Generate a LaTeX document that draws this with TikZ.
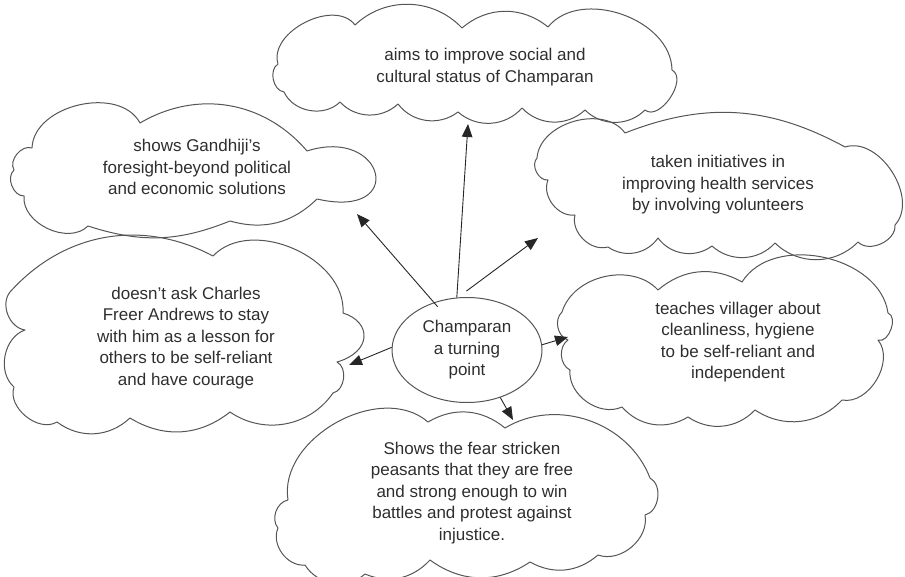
\documentclass[tikz,border=0pt]{standalone}
\usepackage{fontspec}
\setmainfont{Liberation Sans}
\usetikzlibrary{arrows.meta,shapes.geometric}
\definecolor{edgegray}{HTML}{555555}
\definecolor{txtgray}{HTML}{2E2E2E}
\begin{document}
\begin{tikzpicture}[x=1pt,y=-1pt,
 cloudline/.style={draw=edgegray,line width=1pt,line join=round},
 lbl/.style={font=\fontsize{17}{21.5}\selectfont,align=center,text=txtgray,inner sep=0pt},
 arr/.style={draw=black!85,line width=0.9pt,-{Triangle[length=13pt,width=10.5pt]}},
 hub/.style={ellipse,draw=edgegray,line width=1pt,minimum width=150pt,minimum height=105pt,inner sep=0pt}]
\useasboundingbox (0,0) rectangle (905,577);

% cloud 1 (top)
\draw[cloudline] (278,64) to[bend left=80] (355,25) to[bend left=45] (462,28) to[bend left=40] (548,27)
  to[bend left=70] (672,70) to[bend left=95] (645,110) to[bend left=45] (585,110) to[bend left=45] (522,108)
  to[bend left=45] (458,112) to[bend left=45] (398,104) to[bend left=45] (340,102) to[bend left=55] (284,92)
  to[bend left=70] (278,64);
% cloud 2 (top left)
\draw[cloudline] (32,148) to[bend left=75] (140,123) to[bend left=40] (307,151)
  .. controls (385,126) and (408,220) .. (317,199)
  to[bend left=30] (230,221) to[bend left=20] (88,226) to[bend left=70] (24,196) to[bend left=70] (14,170)
  to[bend left=70] (32,148);
% cloud 3 (right upper)
\draw[cloudline] (537,158) to[bend left=70] (625,133) to[bend left=25] (845,147) to[bend left=75] (895,225)
  to[bend left=70] (858,242) to[bend left=45] (775,243) to[bend left=45] (712,246) to[bend left=45] (658,238)
  to[bend left=45] (608,247) to[bend left=60] (575,215) to[bend left=60] (548,180) to[bend left=70] (537,158);
% cloud 4 (right lower)
\draw[cloudline] (562,312) to[bend left=60] (658,290) to[bend left=35] (742,282) to[bend left=70] (888,313)
  to[bend left=90] (878,340) to[bend left=70] (842,400) to[bend left=40] (755,410) to[bend left=40] (688,417)
  to[bend left=40] (622,407) to[bend left=60] (570,370) to[bend left=60] (568,340) to[bend left=60] (562,312);
% cloud 5 (left)
\draw[cloudline] (10,292) to[bend left=38] (213,256) to[bend left=70] (343,313)
  .. controls (372,322) and (372,352) .. (337,362)
  to[bend left=70] (333,393) to[bend left=45] (230,412) to[bend left=35] (130,418) to[bend left=40] (57,422)
  to[bend left=70] (14,387) to[bend left=60] (25,330) to[bend left=60] (10,292);
% cloud 6 (bottom)
\draw[cloudline] (288,500) to[bend left=70] (428,422) to[bend left=35] (505,428) to[bend left=50] (650,478)
  to[bend left=70] (645,515) to[bend left=60] (598,555) to[bend left=35] (530,562) to[bend left=35] (430,560)
  to[bend left=35] (365,574) to[bend left=50] (305,565) to[bend left=60] (278,528) to[bend left=60] (288,500);

\node[lbl] (c1) at (485,67) {aims to improve social and\\cultural status of Champaran};
\node[lbl] (c2) at (197,167) {shows Gandhiji’s\\foresight-beyond political\\and economic solutions};
\node[lbl] (c3) at (718,185) {taken initiatives in\\improving health services\\by involving volunteers};
\node[lbl] (c4) at (738,342) {teaches villager about\\cleanliness, hygiene\\to be self-reliant and\\independent};
\node[lbl] (c5) at (186,338) {doesn’t ask Charles\\Freer Andrews to stay\\with him as a lesson for\\others to be self-reliant\\and have courage};
\node[lbl] (c6) at (472,493) {Shows the fear stricken\\peasants that they are free\\and strong enough to win\\battles and protest against\\injustice.};

\node[hub] (hub) at (467,350) {};
\node[lbl] (hubt) at (467,350) {Champaran\\a turning\\point};

\coordinate (tA) at (357,214);
\coordinate (tB) at (468,124);
\coordinate (tC) at (538,238);
\coordinate (tD) at (568,337);
\coordinate (tE) at (349,365);
\coordinate (tF) at (513,420);

\draw[arr] ([shift={(2pt,-5pt)}]hub.123) -- (tA);
\draw[arr] (hub.101) -- (tB);
\draw[arr] ([shift={(4pt,6pt)}]hub.95) -- (tC);
\draw[arr] (hub.4) -- (tD);
\draw[arr] (hub.178) -- (tE);
\draw[arr] (hub.305) -- (tF);
\end{tikzpicture}
\end{document}
